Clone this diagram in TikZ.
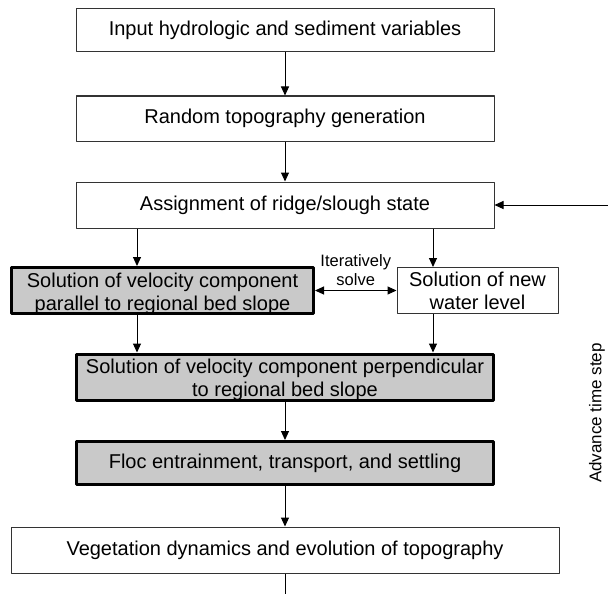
\documentclass[tikz,border=0pt]{standalone}
\usepackage{fontspec}
\setmainfont{Liberation Sans}
\usetikzlibrary{arrows.meta}
\definecolor{boxgray}{gray}{0.79}
\newcommand\twolines[2][0pt]{\raisebox{-#1}[\height][\depth]{\begin{tabular}{@{}c@{}}#2\end{tabular}}}
\begin{document}
\begin{tikzpicture}[x=1pt, y=-1pt, line join=round, >={Triangle[length=9pt,width=8pt]},
	font=\fontsize{20}{23}\selectfont,
	plain/.style={draw=black!80, line width=1pt, align=center, inner sep=0pt},
	heavy/.style={draw=black, line width=3pt, fill=boxgray, align=center, inner sep=0pt},
	link/.style={->, line width=1pt}]
	\useasboundingbox (0,0) rectangle (608,594);
	\node[plain, minimum width=418pt, minimum height=43pt](inp) at (285,30.5){Input hydrologic and sediment variables};
	\node[plain, minimum width=418pt, minimum height=45pt](topo) at (285,118.5){Random topography generation};
	\node[plain, minimum width=418pt, minimum height=46pt](assign) at (285,205){Assignment of ridge/slough state};
	\node[heavy, minimum width=302pt, minimum height=43pt](vpar) at (162.5,290.5){\twolines[3.5pt]{Solution of velocity component\\parallel to regional bed slope}};
	\node[plain, minimum width=161pt, minimum height=45pt](wlev) at (477.5,290.5){\twolines[3pt]{Solution of new\\water level}};
	\node[heavy, minimum width=417pt, minimum height=45pt](vperp) at (285,377){\twolines[3pt]{Solution of velocity component perpendicular\\to regional bed slope}};
	\node[heavy, minimum width=417pt, minimum height=43pt](floc) at (285,463){Floc entrainment, transport, and settling};
	\node[plain, minimum width=548pt, minimum height=46pt](veg) at (285,550){Vegetation dynamics and evolution of topography};
	\node[rotate=90, font=\fontsize{17}{19}\selectfont](adv) at (597,413){Advance time step};
	\coordinate (L) at (137,0);
	\coordinate (R) at (433,0);
	\coordinate (back) at (608,205);
	\coordinate (down) at (285,594);
	\foreach \u/\v in {inp/topo,topo/assign,vperp/floc,floc/veg}
		\draw[link](\u)--(\v);
	\foreach \u/\v/\c in {assign/vpar/L,assign/wlev/R,vpar/vperp/L,wlev/vperp/R}
		\draw[link](\u.south-|\c)--(\v.north-|\c);
	\draw[link](back)--(assign.east);
	\draw[line width=1pt](veg.south)--(down);
	\draw[<->, line width=1pt](vpar.east)--(wlev.west)
		node[midway, above=1pt, align=center, font=\fontsize{16.5}{19}\selectfont](iter){Iteratively\\solve};
\end{tikzpicture}
\end{document}
